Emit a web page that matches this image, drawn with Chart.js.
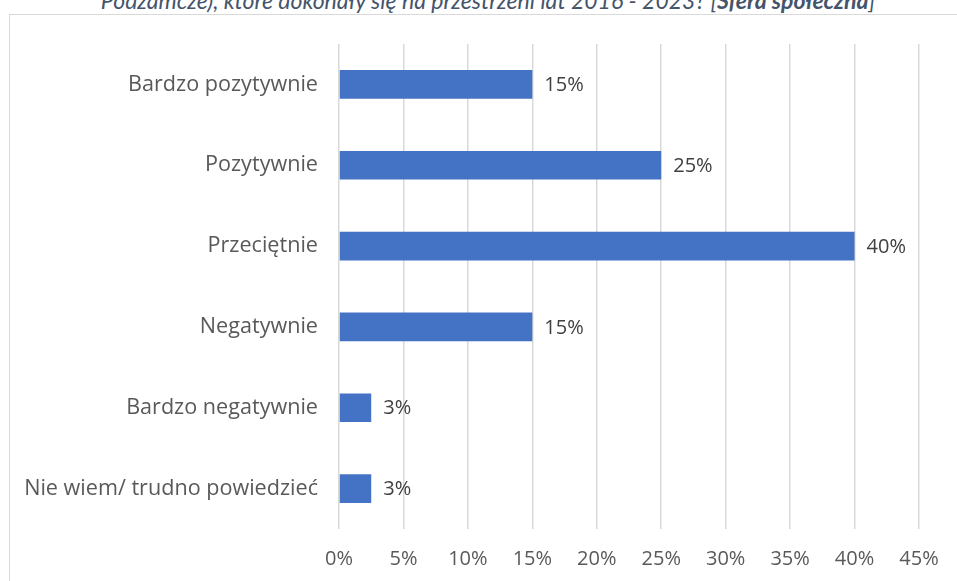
<!DOCTYPE html>
<html>
<head>
<meta charset="utf-8">
<script src="https://cdn.jsdelivr.net/npm/chart.js@4"></script>
<style>
    body { margin: 0; background: #fff; overflow: hidden; }
    #wrap { position: relative; width: 957px; height: 581px; }
    #frame { position: absolute; left: 9px; top: 14px; width: 980px; height: 600px; border: 1.5px solid #d9d9d9; box-sizing: border-box; }
    #title { position: absolute; left: 0; width: 976px; top: -14px; text-align: center; font-family: Lato, sans-serif; font-style: italic; font-size: 23px; color: #44546a; white-space: nowrap; }
    #chart { position: absolute; left: 0; top: 0; }
</style>
</head>
<body>
<div id="wrap">
    <div id="frame"></div>
    <div id="title">Podzamcze), które dokonały się na przestrzeni lat 2016 - 2023? [<b>Sfera społeczna</b>]</div>
    <canvas id="chart" width="957" height="581"></canvas>
</div>
<script>
const categories = ['Bardzo pozytywnie', 'Pozytywnie', 'Przeciętnie', 'Negatywnie', 'Bardzo negatywnie', 'Nie wiem/ trudno powiedzieć'];
const shares = [15, 25, 40, 15, 2.5, 2.5];
const axisTicks = [0, 5, 10, 15, 20, 25, 30, 35, 40, 45];

const FONT = '"Open Sans", sans-serif';

// value labels drawn just past the end of each bar
const barLabels = {
    id: 'barLabels',
    afterDatasetsDraw(chart) {
        const ctx = chart.ctx;
        const meta = chart.getDatasetMeta(0);
        ctx.save();
        ctx.font = `20px ${FONT}`;
        ctx.fillStyle = '#404040';
        ctx.textAlign = 'left';
        ctx.textBaseline = 'middle';
        meta.data.forEach((bar, i) => {
            ctx.fillText(Math.round(shares[i]) + '%', bar.x + 12, bar.y + 1);
        });
        ctx.restore();
    }
};

new Chart(document.getElementById('chart'), {
    type: 'bar',
    data: {
        labels: categories,
        datasets: [{
            data: shares,
            backgroundColor: '#4472c4',
            barPercentage: 0.355,
            categoryPercentage: 1
        }]
    },
    options: {
        indexAxis: 'y',
        responsive: false,
        animation: false,
        layout: { padding: { top: 44, right: 38, left: 0, bottom: 0 } },
        plugins: { legend: { display: false }, tooltip: { enabled: false } },
        scales: {
            x: {
                min: 0,
                max: 45,
                afterBuildTicks: s => { s.ticks = axisTicks.map(v => ({ value: v })); },
                afterFit: s => { s.height = 52; },
                grid: { color: '#d9d9d9', lineWidth: 1.5, drawTicks: false },
                border: { display: false },
                ticks: { color: '#595959', font: { family: FONT, size: 20 }, padding: 18, callback: v => v + '%' }
            },
            y: {
                afterFit: s => { s.width = 339; },
                grid: { display: false, drawTicks: false },
                border: { display: false },
                ticks: { color: '#595959', font: { family: FONT, size: 21.6 }, padding: 21 }
            }
        }
    },
    plugins: [barLabels]
});
</script>
</body>
</html>
